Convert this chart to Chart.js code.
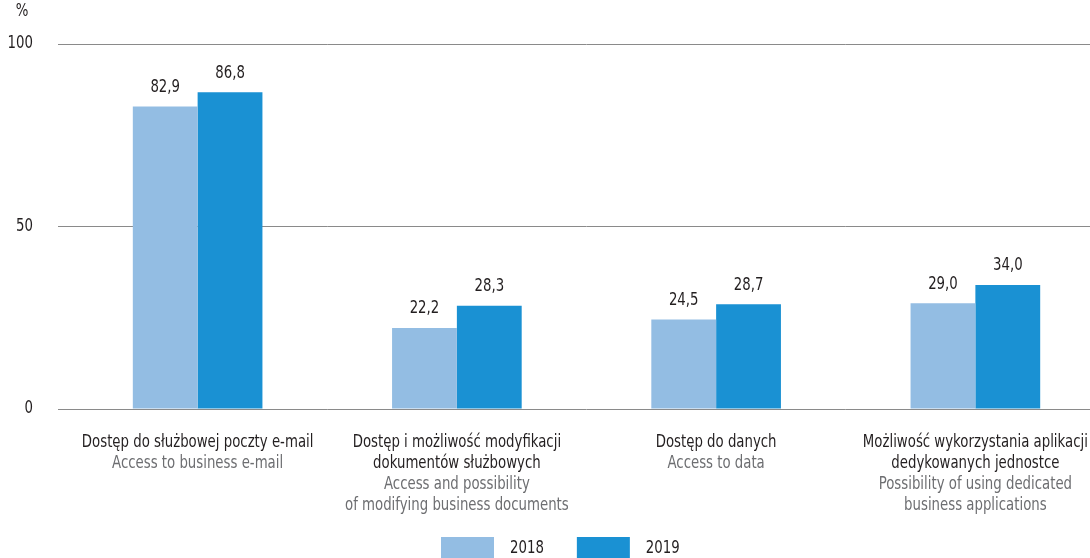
<!DOCTYPE html>
<html>
<head>
<meta charset="utf-8">
<script src="https://cdn.jsdelivr.net/npm/chart.js@4"></script>
<style>
  html, body { margin: 0; padding: 0; overflow: hidden; background: #fff; }
  #wrap { width: 1105px; height: 558px; }
</style>
</head>
<body>
<div id="wrap"><canvas id="c" width="1105" height="558"></canvas></div>
<script>
const categoriesPl = [
  ["Dostęp do służbowej poczty e-mail"],
  ["Dostęp i możliwość modyfikacji", "dokumentów służbowych"],
  ["Dostęp do danych"],
  ["Możliwość wykorzystania aplikacji", "dedykowanych jednostce"]
];
const categoriesEn = [
  ["Access to business e-mail"],
  ["Access and possibility", "of modifying business documents"],
  ["Access to data"],
  ["Possibility of using dedicated", "business applications"]
];
const seriesNames = ["2018", "2019"];
const values2018 = [82.9, 22.2, 24.5, 29.0];
const values2019 = [86.8, 28.3, 28.7, 34.0];
const yTicks = [0, 50, 100];

const FONT = '"Liberation Sans Narrow", "DejaVu Sans Condensed", sans-serif';
const FS = 17;
const SQUEEZE = 0.87;          // horizontal compression for a condensed look
const DARK = '#231f20';
const GREY = '#6d6e71';

const fmt = v => v.toFixed(1).replace('.', ',');

// draws text horizontally compressed around its anchor
function narrowText(ctx, text, x, y, align) {
  ctx.save();
  ctx.translate(x, y);
  ctx.scale(SQUEEZE, 1);
  ctx.textAlign = align || 'center';
  ctx.fillText(text, 0, 0);
  ctx.restore();
}

// value labels above each bar
const valueLabels = {
  id: 'valueLabels',
  afterDatasetsDraw(chart) {
    const ctx = chart.ctx;
    ctx.save();
    ctx.font = FS + 'px ' + FONT;
    ctx.fillStyle = DARK;
    ctx.textBaseline = 'middle';
    chart.data.datasets.forEach((ds, i) => {
      chart.getDatasetMeta(i).data.forEach((bar, j) => {
        narrowText(ctx, fmt(ds.data[j]), bar.x, bar.y - 19, 'center');
      });
    });
    ctx.restore();
  }
};

// y tick labels, two-colour category labels, unit mark, legend
const extras = {
  id: 'extras',
  afterDraw(chart) {
    const ctx = chart.ctx;
    const x = chart.scales.x;
    const yS = chart.scales.y;
    const area = chart.chartArea;
    ctx.save();
    ctx.font = FS + 'px ' + FONT;
    ctx.textBaseline = 'middle';

    ctx.fillStyle = DARK;
    yTicks.forEach(v => narrowText(ctx, String(v), 33, yS.getPixelForValue(v), 'right'));
    narrowText(ctx, '%', 22, 12, 'center');

    const lh = 21;
    categoriesPl.forEach((pl, i) => {
      const cx = x.getPixelForValue(i);
      let y = area.bottom + 34;
      ctx.fillStyle = DARK;
      pl.forEach(t => { narrowText(ctx, t, cx, y, 'center'); y += lh; });
      ctx.fillStyle = GREY;
      categoriesEn[i].forEach(t => { narrowText(ctx, t, cx, y, 'center'); y += lh; });
    });

    // legend
    const boxW = 53, boxH = 22, gapText = 16, gapItem = 33;
    let lx = 441;
    const ly = 537;
    chart.data.datasets.forEach(ds => {
      ctx.fillStyle = ds.backgroundColor;
      ctx.fillRect(lx, ly, boxW, boxH);
      ctx.fillStyle = DARK;
      narrowText(ctx, ds.label, lx + boxW + gapText, ly + 12, 'left');
      lx += boxW + gapText + ctx.measureText(ds.label).width * SQUEEZE + gapItem;
    });
    ctx.restore();
  }
};

new Chart(document.getElementById('c'), {
  type: 'bar',
  data: {
    labels: categoriesPl.map(l => l.join(' ')),
    datasets: [
      { label: seriesNames[0], data: values2018, backgroundColor: '#93bde3' },
      { label: seriesNames[1], data: values2019, backgroundColor: '#1a91d3' }
    ]
  },
  options: {
    responsive: false,
    animation: false,
    events: [],
    layout: { padding: { top: 44, bottom: 149, left: 0, right: 0 } },
    plugins: { legend: { display: false }, tooltip: { enabled: false } },
    datasets: { bar: { categoryPercentage: 0.5, barPercentage: 1.0 } },
    scales: {
      x: {
        display: false
      },
      y: {
        min: 0,
        max: 100,
        afterFit(s) { s.width = 68; },
        afterBuildTicks(s) { s.ticks = yTicks.map(v => ({ value: v })); },
        grid: { color: '#8a8a8a', lineWidth: 1, tickLength: 10, drawTicks: true },
        border: { display: false },
        ticks: { display: false }
      }
    }
  },
  plugins: [valueLabels, extras]
});
</script>
</body>
</html>
